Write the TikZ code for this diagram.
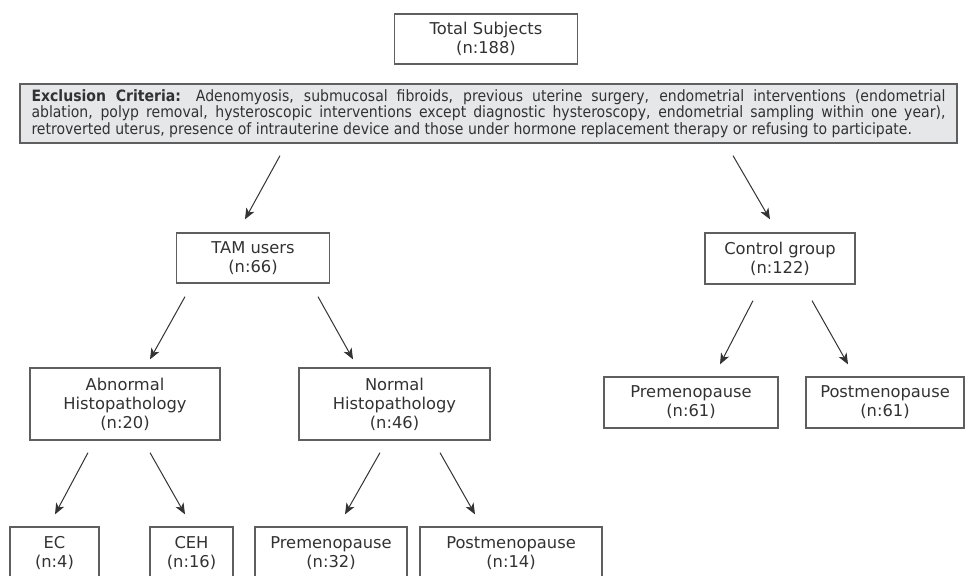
\documentclass[tikz,border=0pt]{standalone}
\usepackage{fontspec}
\setmainfont{DejaVu Sans}
\newfontfamily\condfont{DejaVu Sans Condensed}
\usetikzlibrary{arrows.meta}
\definecolor{boxgray}{RGB}{95,95,95}
\definecolor{textgray}{RGB}{50,50,50}
\definecolor{exclfill}{RGB}{230,231,233}

\begin{document}
\begin{tikzpicture}[x=1pt,y=-1pt,
  box/.style={draw=boxgray,line width=1.3pt,text=textgray,align=center,inner sep=0pt,
    font=\fontsize{16.3}{19}\selectfont},
  arr/.style={-{Stealth[length=11pt,width=9pt,inset=3pt]},line width=1pt,draw=black!80}]
  \useasboundingbox (0,0) rectangle (965,575);
  \clip (0,0) rectangle (965,575);
  % top of the chart
  \node[box,minimum width=183pt,minimum height=50pt] (total) at (486,39) {Total Subjects\\(n:188)};
  \node[box,fill=exclfill,text width=914pt,align=justify,inner xsep=11.5pt,minimum height=59pt,
    font=\condfont\fontsize{15.6}{16.5}\selectfont] (excl) at (488.5,113.5)
    {{\bfseries Exclusion Criteria:} Adenomyosis, submucosal fibroids, previous uterine surgery, endometrial interventions (endometrial\linebreak
     ablation, polyp removal, hysteroscopic interventions except diagnostic hysteroscopy, endometrial sampling within one year),\linebreak
     retroverted uterus, presence of intrauterine device and those under hormone replacement therapy or refusing to participate.};
  % groups
  \node[box,minimum width=153pt,minimum height=50pt] (tam) at (253,258) {TAM users\\(n:66)};
  \node[box,minimum width=150pt,minimum height=51pt] (ctrl) at (780,258.5) {Control group\\(n:122)};
  \node[box,minimum width=190pt,minimum height=72pt] (abn) at (125,404) {Abnormal\\Histopathology\\(n:20)};
  \node[box,minimum width=191pt,minimum height=72pt] (nrm) at (394.5,404) {Normal\\Histopathology\\(n:46)};
  \node[box,minimum width=174pt,minimum height=51pt] (cpre) at (691,402.5) {Premenopause\\(n:61)};
  \node[box,minimum width=158pt,minimum height=51pt] (cpost) at (885,402.5) {Postmenopause\\(n:61)};
  % bottom row, cut by the frame
  \node[box,minimum width=89pt,minimum height=52pt] (ec) at (54.5,553) {EC\\(n:4)};
  \node[box,minimum width=83pt,minimum height=52pt] (ceh) at (191.5,553) {CEH\\(n:16)};
  \node[box,minimum width=152pt,minimum height=52pt] (npre) at (331,553) {Premenopause\\(n:32)};
  \node[box,minimum width=182pt,minimum height=52pt] (npost) at (511,553) {Postmenopause\\(n:14)};
  % arrows
  \draw[arr] ([shift={(-208.5,12)}]excl.south) -- ([shift={(-8,-13)}]tam.north);
  \draw[arr] ([shift={(244.5,12)}]excl.south) -- ([shift={(-10,-13)}]ctrl.north);
  \draw[arr] ([shift={(-68,13)}]tam.south) -- ([shift={(25,-8)}]abn.north);
  \draw[arr] ([shift={(65,13)}]tam.south) -- ([shift={(-41.5,-8)}]nrm.north);
  \draw[arr] ([shift={(-27,16)}]ctrl.south) -- ([shift={(29,-12)}]cpre.north);
  \draw[arr] ([shift={(32,16)}]ctrl.south) -- ([shift={(-37,-12)}]cpost.north);
  \draw[arr] ([shift={(-37,12)}]abn.south) -- ([shift={(0.5,-12)}]ec.north);
  \draw[arr] ([shift={(25,12)}]abn.south) -- ([shift={(-6.5,-12)}]ceh.north);
  \draw[arr] ([shift={(-14.5,12)}]nrm.south) -- ([shift={(14,-12)}]npre.north);
  \draw[arr] ([shift={(45.5,12)}]nrm.south) -- ([shift={(-36,-12)}]npost.north);
\end{tikzpicture}
\end{document}
